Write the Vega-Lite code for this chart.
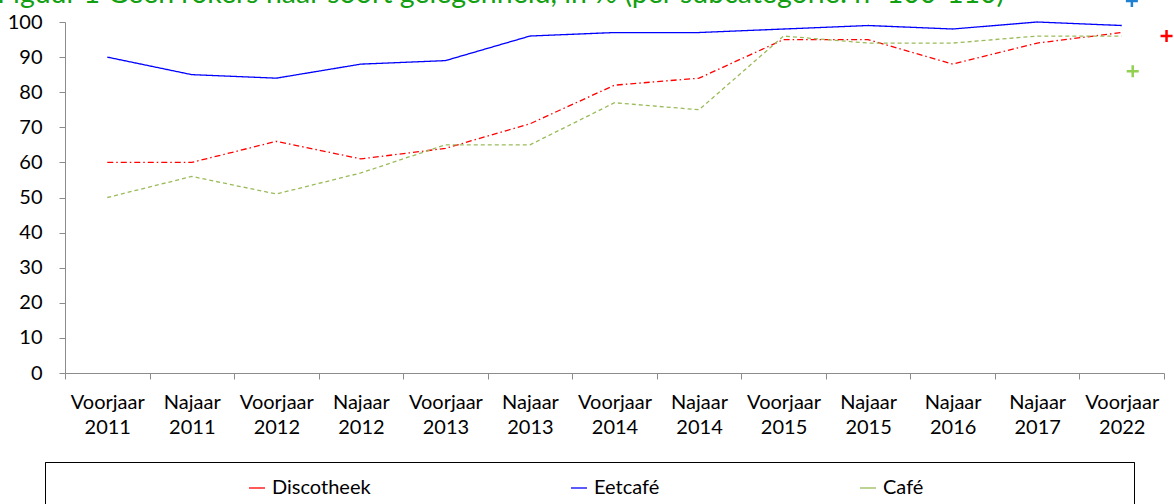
{
  "$schema": "https://vega.github.io/schema/vega-lite/v6.json",
  "width": 1099,
  "height": 351,
  "autosize": {"type": "none"},
  "padding": {"left": 65, "top": 22, "right": 10, "bottom": 131},
  "background": "white",
  "config": {
    "view": {"stroke": null},
    "font": "Lato",
    "axis": {"labelFont": "Lato", "labelFontSize": 20, "labelColor": "#000000", "domainColor": "#8c8c8c", "tickColor": "#8c8c8c", "grid": false, "title": null, "tickSize": 6}
  },
  "title": {
    "text": "Figuur 1 Geen rokers naar soort gelegenheid, in % (per subcategorie: n=100-110)",
    "anchor": "start",
    "frame": "group",
    "orient": "top",
    "dx": -68,
    "dy": 42,
    "offset": 0,
    "baseline": "alphabetic",
    "font": "Lato",
    "fontSize": 28.5,
    "fontWeight": "normal",
    "color": "#12a012"
  },
  "datasets": {
    "series": [
      {"gelegenheid": "Discotheek", "periode": "Voorjaar 2011", "pct": 60},
      {"gelegenheid": "Discotheek", "periode": "Najaar 2011", "pct": 60},
      {"gelegenheid": "Discotheek", "periode": "Voorjaar 2012", "pct": 66},
      {"gelegenheid": "Discotheek", "periode": "Najaar 2012", "pct": 61},
      {"gelegenheid": "Discotheek", "periode": "Voorjaar 2013", "pct": 64},
      {"gelegenheid": "Discotheek", "periode": "Najaar 2013", "pct": 71},
      {"gelegenheid": "Discotheek", "periode": "Voorjaar 2014", "pct": 82},
      {"gelegenheid": "Discotheek", "periode": "Najaar 2014", "pct": 84},
      {"gelegenheid": "Discotheek", "periode": "Voorjaar 2015", "pct": 95},
      {"gelegenheid": "Discotheek", "periode": "Najaar 2015", "pct": 95},
      {"gelegenheid": "Discotheek", "periode": "Najaar 2016", "pct": 88},
      {"gelegenheid": "Discotheek", "periode": "Najaar 2017", "pct": 94},
      {"gelegenheid": "Discotheek", "periode": "Voorjaar 2022", "pct": 97},
      {"gelegenheid": "Eetcafé", "periode": "Voorjaar 2011", "pct": 90},
      {"gelegenheid": "Eetcafé", "periode": "Najaar 2011", "pct": 85},
      {"gelegenheid": "Eetcafé", "periode": "Voorjaar 2012", "pct": 84},
      {"gelegenheid": "Eetcafé", "periode": "Najaar 2012", "pct": 88},
      {"gelegenheid": "Eetcafé", "periode": "Voorjaar 2013", "pct": 89},
      {"gelegenheid": "Eetcafé", "periode": "Najaar 2013", "pct": 96},
      {"gelegenheid": "Eetcafé", "periode": "Voorjaar 2014", "pct": 97},
      {"gelegenheid": "Eetcafé", "periode": "Najaar 2014", "pct": 97},
      {"gelegenheid": "Eetcafé", "periode": "Voorjaar 2015", "pct": 98},
      {"gelegenheid": "Eetcafé", "periode": "Najaar 2015", "pct": 99},
      {"gelegenheid": "Eetcafé", "periode": "Najaar 2016", "pct": 98},
      {"gelegenheid": "Eetcafé", "periode": "Najaar 2017", "pct": 100},
      {"gelegenheid": "Eetcafé", "periode": "Voorjaar 2022", "pct": 99},
      {"gelegenheid": "Café", "periode": "Voorjaar 2011", "pct": 50},
      {"gelegenheid": "Café", "periode": "Najaar 2011", "pct": 56},
      {"gelegenheid": "Café", "periode": "Voorjaar 2012", "pct": 51},
      {"gelegenheid": "Café", "periode": "Najaar 2012", "pct": 57},
      {"gelegenheid": "Café", "periode": "Voorjaar 2013", "pct": 65},
      {"gelegenheid": "Café", "periode": "Najaar 2013", "pct": 65},
      {"gelegenheid": "Café", "periode": "Voorjaar 2014", "pct": 77},
      {"gelegenheid": "Café", "periode": "Najaar 2014", "pct": 75},
      {"gelegenheid": "Café", "periode": "Voorjaar 2015", "pct": 96},
      {"gelegenheid": "Café", "periode": "Najaar 2015", "pct": 94},
      {"gelegenheid": "Café", "periode": "Najaar 2016", "pct": 94},
      {"gelegenheid": "Café", "periode": "Najaar 2017", "pct": 96},
      {"gelegenheid": "Café", "periode": "Voorjaar 2022", "pct": 96}
    ],
    "markers": [
      {"gelegenheid": "Eetcafé", "positie": 12.62, "pct": 106},
      {"gelegenheid": "Discotheek", "positie": 13.03, "pct": 96},
      {"gelegenheid": "Café", "positie": 12.63, "pct": 86}
    ]
  },
  "layer": [
    {
      "data": {"name": "series"},
      "mark": {"type": "line", "strokeWidth": 1.3},
      "encoding": {
        "x": {
          "field": "periode", "type": "nominal", "sort": null, "bandPosition": 0.5,
          "scale": {"type": "band", "paddingInner": 0, "paddingOuter": 0},
          "axis": {"labelAngle": 0, "labelExpr": "split(datum.label, ' ')", "labelLineHeight": 25, "labelPadding": 13, "tickBand": "extent", "labelBaseline": "top"}
        },
        "y": {
          "field": "pct", "type": "quantitative",
          "scale": {"domain": [0, 100], "nice": false},
          "axis": {"values": [0, 10, 20, 30, 40, 50, 60, 70, 80, 90, 100], "tickCount": 20, "labelOverlap": false, "labelPadding": 17}
        },
        "color": {
          "field": "gelegenheid", "type": "nominal",
          "scale": {"domain": ["Discotheek", "Eetcafé", "Café"], "range": ["#ff0000", "#0000ff", "#9bbb59"]},
          "legend": {
            "orient": "none", "legendX": -20, "legendY": 440, "direction": "horizontal", "columns": 3,
            "gridAlign": "none", "columnPadding": 197, "padding": 16,
            "strokeColor": "#000000", "fillColor": "#ffffff",
            "title": "\u00a0", "titleOrient": "left", "titlePadding": 186, "titleFontSize": 11,
            "symbolType": "stroke", "symbolSize": 256, "symbolStrokeWidth": 1.3,
            "labelFont": "Lato", "labelFontSize": 20, "labelColor": "#000000", "labelOffset": 5, "labelLimit": 600,
            "labelExpr": "datum.label == 'Café' ? pad(datum.label, 42, '\u00a0') + '\u200b' : datum.label"
          }
        },
        "strokeDash": {
          "field": "gelegenheid", "type": "nominal",
          "scale": {"domain": ["Discotheek", "Eetcafé", "Café"], "range": [[6, 3, 1.5, 3], [1, 0], [4, 3]]},
          "legend": {
            "orient": "none", "legendX": -20, "legendY": 440, "direction": "horizontal", "columns": 3,
            "gridAlign": "none", "columnPadding": 197, "padding": 16,
            "strokeColor": "#000000", "fillColor": "#ffffff",
            "title": "\u00a0", "titleOrient": "left", "titlePadding": 186, "titleFontSize": 11,
            "symbolType": "stroke", "symbolSize": 256, "symbolStrokeWidth": 1.3,
            "labelFont": "Lato", "labelFontSize": 20, "labelColor": "#000000", "labelOffset": 5, "labelLimit": 600,
            "labelExpr": "datum.label == 'Café' ? pad(datum.label, 42, '\u00a0') + '\u200b' : datum.label"
          }
        }
      }
    },
    {
      "data": {"name": "markers"},
      "mark": {"type": "point", "shape": "M-1,0L1,0M0,-1L0,1", "filled": false, "size": 144, "strokeWidth": 2.5, "opacity": 1},
      "encoding": {
        "x": {"field": "positie", "type": "quantitative", "scale": {"domain": [0, 13], "nice": false}, "axis": null},
        "y": {
          "field": "pct", "type": "quantitative",
          "axis": {"values": [0, 10, 20, 30, 40, 50, 60, 70, 80, 90, 100], "tickCount": 20, "labelOverlap": false, "labelPadding": 17}
        },
        "color": {
          "field": "gelegenheid", "type": "nominal",
          "scale": {"domain": ["Discotheek", "Eetcafé", "Café"], "range": ["#ff0000", "#1f7fd1", "#92d050"]},
          "legend": null
        }
      }
    }
  ],
  "resolve": {"scale": {"x": "independent", "color": "independent"}}
}
